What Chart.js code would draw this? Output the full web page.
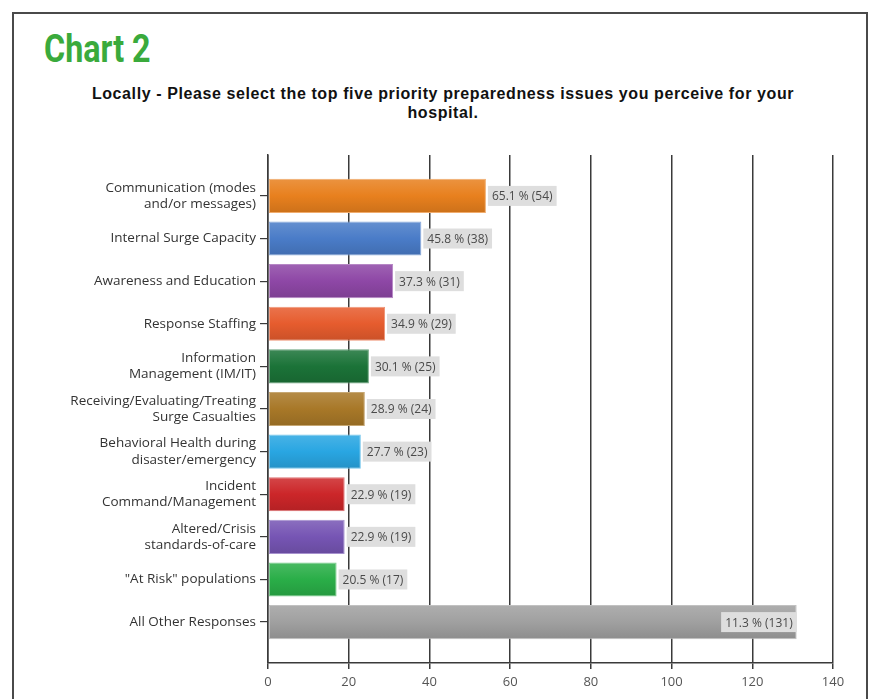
<!DOCTYPE html>
<html>
<head>
<meta charset="utf-8">
<script src="https://cdn.jsdelivr.net/npm/chart.js@4.4.1/dist/chart.umd.min.js"></script>
<style>
  html, body { margin: 0; padding: 0; background: #fff; overflow: hidden; }
  #page { position: relative; width: 873px; height: 699px; }
  #frame { position: absolute; left: 12px; top: 12px; width: 852px; height: 720px; border: 2px solid #4a4a4a; border-bottom: none; }
  #heading { position: absolute; left: 44px; top: 27px; font-family: Roboto, Arial, sans-serif; font-weight: bold; font-size: 38px; line-height: 44px; color: #3aaa3c; transform: scaleX(0.85); transform-origin: left top; }
  #title { position: absolute; left: 0; top: 84px; width: 886px; text-align: center; font-family: 'Liberation Sans', Arial, sans-serif; font-weight: bold; font-size: 16px; letter-spacing: 0.6px; line-height: 19px; color: #111; }
  #wrap { position: absolute; left: 0; top: 0; width: 873px; height: 699px; }
</style>
</head>
<body>
<div id="page">
  <div id="frame"></div>
  <div id="heading">Chart 2</div>
  <div id="title">Locally - Please select the top five priority preparedness issues you perceive for your<br>hospital.</div>
  <div id="wrap"><canvas id="chart"></canvas></div>
</div>
<script>
// categories (multi-line labels as arrays)
const categories = [
  ['Communication (modes', 'and/or messages)'],
  'Internal Surge Capacity',
  'Awareness and Education',
  'Response Staffing',
  ['Information', 'Management (IM/IT)'],
  ['Receiving/Evaluating/Treating', 'Surge Casualties'],
  ['Behavioral Health during', 'disaster/emergency'],
  ['Incident', 'Command/Management'],
  ['Altered/Crisis', 'standards-of-care'],
  '"At Risk" populations',
  'All Other Responses'
];
const counts = [54, 38, 31, 29, 25, 24, 23, 19, 19, 17, 131];
const percents = [65.1, 45.8, 37.3, 34.9, 30.1, 28.9, 27.7, 22.9, 22.9, 20.5, 11.3];
const barColors = ['#e8801e', '#4a7cc8', '#8e47a6', '#e65c2e', '#1b7338', '#a87828',
                   '#29a6e2', '#cc2629', '#7655b4', '#2aae48', '#a0a0a0'];
const xTicks = [0, 20, 40, 60, 80, 100, 120, 140];

function shade(hex, amt) {
  const n = parseInt(hex.slice(1), 16);
  let r = (n >> 16) & 255, g = (n >> 8) & 255, b = n & 255;
  const f = v => Math.max(0, Math.min(255, Math.round(amt > 0 ? v + (255 - v) * amt : v * (1 + amt))));
  return 'rgb(' + f(r) + ',' + f(g) + ',' + f(b) + ')';
}

function barFill(ctx) {
  const chart = ctx.chart;
  const base = barColors[ctx.dataIndex];
  const y = chart.scales && chart.scales.y;
  if (!y || ctx.type !== 'data') return base;
  const cy = y.getPixelForValue(ctx.dataIndex);
  if (!isFinite(cy)) return base;
  const g = chart.ctx.createLinearGradient(0, cy - 17, 0, cy + 17);
  g.addColorStop(0, shade(base, 0.15));
  g.addColorStop(0.5, base);
  g.addColorStop(1, shade(base, -0.12));
  return g;
}

// value labels in grey boxes
const valueLabels = {
  id: 'valueLabels',
  afterDatasetsDraw(chart) {
    const c = chart.ctx;
    const meta = chart.getDatasetMeta(0);
    c.save();
    c.font = '12px "Open Sans", Arial, sans-serif';
    c.textBaseline = 'middle';
    meta.data.forEach((bar, i) => {
      const txt = percents[i].toFixed(1) + ' % (' + counts[i] + ')';
      const w = c.measureText(txt).width + 8;
      const h = 20;
      let x0 = bar.x + 2;
      if (x0 + w > chart.chartArea.right - 30) x0 = bar.x - w;
      c.fillStyle = '#dedede';
      c.fillRect(x0, bar.y - h / 2, w, h);
      c.fillStyle = '#4a4a4a';
      c.textAlign = 'left';
      c.fillText(txt, x0 + 4, bar.y + 1);
    });
    c.restore();
  }
};

const data = counts.map((v, i) => ({ x: v, y: i }));

new Chart(document.getElementById('chart'), {
  type: 'bar',
  data: {
    datasets: [{
      data: data,
      backgroundColor: barFill,
      borderColor: barColors.map(c => shade(c, 0.35)),
      borderWidth: 1,
      borderSkipped: false,
      categoryPercentage: 0.8,
      barPercentage: 1
    }]
  },
  options: {
    indexAxis: 'y',
    responsive: true,
    maintainAspectRatio: false,
    animation: false,
    layout: { padding: { top: 155, right: 40, left: 0, bottom: 0 } },
    plugins: { legend: { display: false }, tooltip: { enabled: false } },
    scales: {
      x: {
        type: 'linear',
        min: 0,
        max: 140,
        afterBuildTicks(scale) { scale.ticks = xTicks.map(v => ({ value: v })); },
        afterFit(scale) { scale.height = 36; },
        grid: { color: '#3a3a3a', lineWidth: 1.5, tickLength: 6, drawOnChartArea: true },
        border: { display: true, color: '#3a3a3a', width: 1.5 },
        ticks: { color: '#555', font: { family: 'Open Sans', size: 13 }, padding: 5, maxRotation: 0 }
      },
      y: {
        type: 'linear',
        reverse: true,
        offset: false,
        min: -0.96,
        max: 10.96,
        afterBuildTicks(scale) { scale.ticks = categories.map((c, i) => ({ value: i })); },
        afterFit(scale) { scale.width = 268; },
        grid: { offset: false, drawOnChartArea: false, color: '#3a3a3a', lineWidth: 1.2, tickLength: 8 },
        border: { display: true, color: '#3a3a3a', width: 1.5 },
        ticks: {
          autoSkip: false,
          color: '#333',
          padding: 4,
          font: { family: 'Open Sans', size: 13.5, lineHeight: 1.2 },
          callback: v => categories[v] !== undefined ? categories[v] : ''
        }
      }
    }
  },
  plugins: [valueLabels]
});
</script>
</body>
</html>
